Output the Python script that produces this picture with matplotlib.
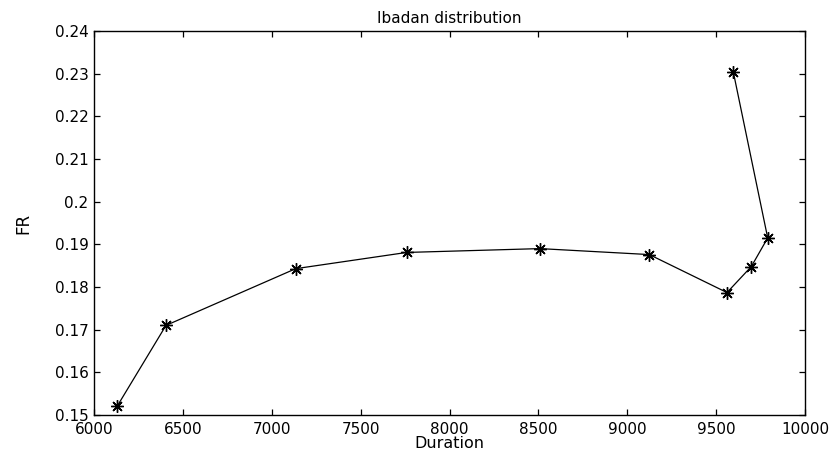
import matplotlib.pyplot as plt
from matplotlib.ticker import FormatStrFormatter, MultipleLocator

plt.rcParams['font.family'] = ['DejaVu Sans']

duration = [6131, 6405, 7135, 7759, 8509, 9124, 9561, 9698, 9790, 9597]
fr = [0.1521, 0.1710, 0.1843, 0.1881, 0.1890, 0.1876, 0.1787, 0.1848, 0.1915, 0.2303]

fig = plt.figure(figsize=(8.37, 4.54), dpi=100)
ax = fig.add_axes([0.1123, 0.0859, 0.8495, 0.8458])

ax.plot(duration, fr, color='black', linewidth=0.9,
        marker=(8, 2, 0), markersize=9, markeredgewidth=1.0)

ax.set_xlim(6000, 10000)
ax.set_ylim(0.15, 0.24)
ax.xaxis.set_major_locator(MultipleLocator(500))
ax.yaxis.set_major_locator(MultipleLocator(0.01))
ax.yaxis.set_major_formatter(FormatStrFormatter('%g'))

ax.tick_params(direction='in', length=4, width=0.9, top=True, right=True,
               labelsize=11)
ax.tick_params(axis='x', pad=5)
ax.tick_params(axis='y', pad=4)
for s in ax.spines.values():
    s.set_linewidth(1.0)

ax.set_title('Ibadan distribution', fontsize=11, pad=6)
ax.set_xlabel('Duration', fontsize=11.5, labelpad=-1)
ax.set_ylabel('FR', fontsize=12, labelpad=16)

fig.savefig('out.png', dpi=100)
